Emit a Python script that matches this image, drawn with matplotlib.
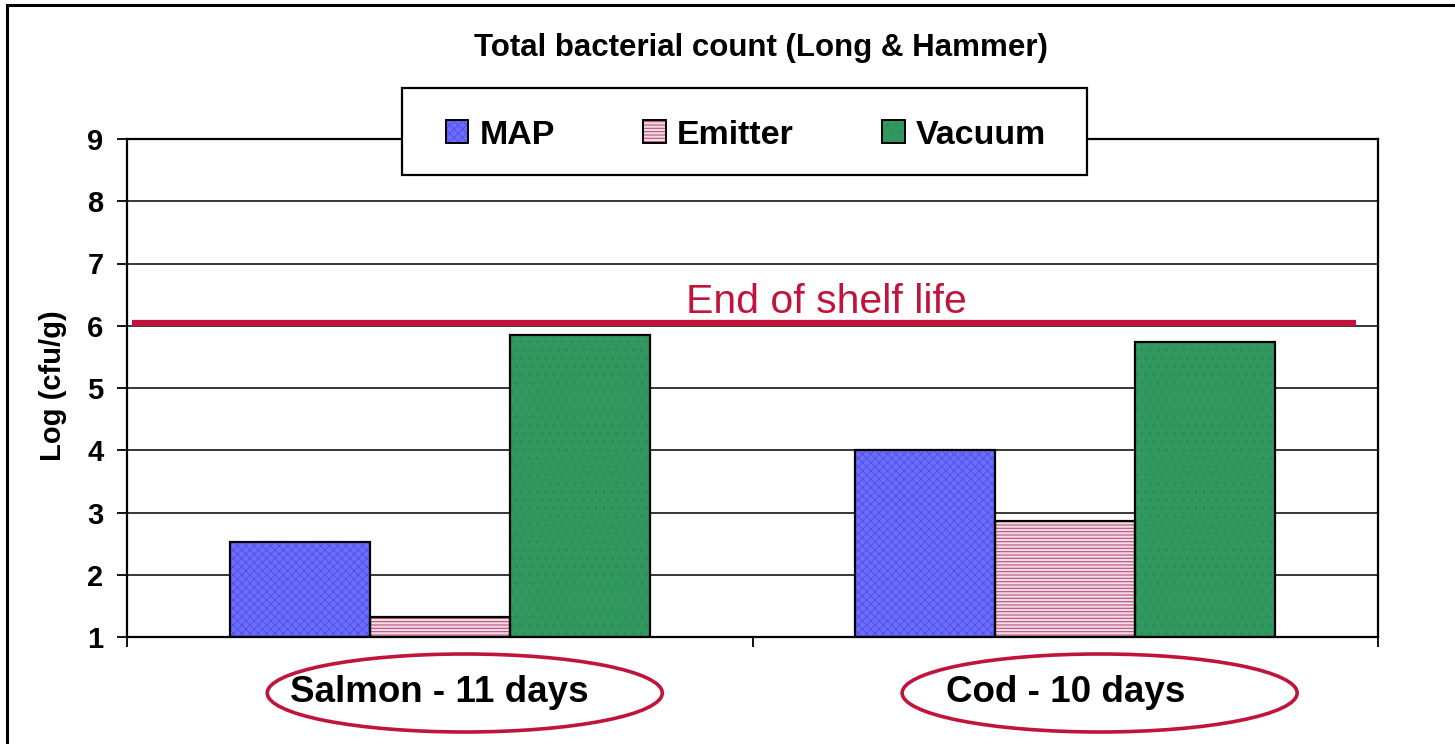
import numpy as np
import matplotlib
matplotlib.use("Agg")
import matplotlib.pyplot as plt
import matplotlib.transforms as mtransforms
from matplotlib.patches import Patch, Rectangle, Ellipse
from matplotlib.legend_handler import HandlerTuple

# data
categories = ["Salmon - 11 days", "Cod - 10 days"]
series = ["MAP", "Emitter", "Vacuum"]
map_vals = [2.53, 4.00]
emitter_vals = [1.32, 2.86]
vacuum_vals = [5.85, 5.74]
shelf_life = 6.04
y_ticks = [1, 2, 3, 4, 5, 6, 7, 8, 9]

plt.rcParams['font.family'] = ['Liberation Sans', 'DejaVu Sans']
plt.rcParams['hatch.linewidth'] = 0.8

face_cols = ['#6C6CFF', '#F4DCE6', '#31995F']
hatch_cols = ['#5353E6', '#B8507C', '#2B8C56']
hatches = ['xxxx', '-----', '..']
red = '#C0143C'

fig = plt.figure(figsize=(14.55, 7.44), dpi=100)
ax = fig.add_axes([127/1455, 107/744, 1251/1455, 498/744])

x = np.arange(len(categories))
w = 0.224
vals = [map_vals, emitter_vals, vacuum_vals]
for i, v in enumerate(vals):
    pos = x + (i - 1) * w
    heights = np.array(v) - 1
    ax.bar(pos, heights, w, bottom=1, color=face_cols[i], hatch=hatches[i],
           edgecolor=hatch_cols[i], linewidth=0, zorder=2)
    ax.bar(pos, heights, w, bottom=1, fill=False, edgecolor='black',
           linewidth=1.6, zorder=3)

# end of shelf life line
ax.plot([-0.492, 1.465], [shelf_life, shelf_life], color=red, lw=4.5,
        solid_capstyle='butt', zorder=4)
ax.text(0.6175, shelf_life + 0.17, "End of shelf life", color=red,
        fontsize=29.5, ha='center', va='baseline', zorder=4)

ax.set_xlim(-0.5, 1.5)
ax.set_ylim(1, 9)
ax.set_yticks(y_ticks)
ax.set_yticklabels([str(t) for t in y_ticks], fontsize=21, fontweight='bold')
ax.set_xticks([-0.5, 0.5, 1.5])
ax.set_xticklabels([])
ax.tick_params(axis='y', length=7, width=1.3, pad=10)
ax.tick_params(axis='x', length=7, width=1.3)
ax.grid(axis='y', color='black', lw=1.1)
ax.set_axisbelow(True)
for s in ax.spines.values():
    s.set_linewidth(1.6)

# category labels in ellipses under the axis
trans = mtransforms.blended_transform_factory(ax.transData, fig.transFigure)
ell_offsets = [0.04, 0.055]
for i, cat in enumerate(categories):
    ax.text(x[i], 51/744, cat, transform=trans, fontsize=26.5,
            fontweight='bold', ha='center', va='center', clip_on=False)
    e = Ellipse((x[i] + ell_offsets[i], 51/744), 0.6315, 78/744,
                transform=trans, fill=False, edgecolor=red, lw=2.6,
                clip_on=False)
    ax.add_artist(e)

fig.text(53/1455, 358/744, "Log (cfu/g)", rotation=90, fontsize=21,
         fontweight='bold', ha='center', va='center')
fig.text(761/1455, 696/744, "Total bacterial count (Long & Hammer)",
         fontsize=22.5, fontweight='bold', ha='center', va='center')

# legend box and entries
fig.patches.append(Rectangle((402/1455, 569/744), 685/1455, 87/744,
                             transform=fig.transFigure, facecolor='white',
                             edgecolor='black', lw=1.6, zorder=3))
handles = []
for i in range(3):
    handles.append((Patch(facecolor=face_cols[i], hatch=hatches[i],
                          edgecolor=hatch_cols[i], lw=0),
                    Patch(fill=False, edgecolor='black', lw=1.4)))
fig.legend(handles, series, loc='center',
           bbox_to_anchor=(746/1455, 609/744), ncol=3, frameon=False,
           prop={'size': 24.5, 'weight': 'bold'}, handlelength=0.66,
           handleheight=0.66, handletextpad=0.33, columnspacing=2.6,
           handler_map={tuple: HandlerTuple(ndivide=1)})

# outer border of the picture
fig.patches.append(Rectangle((7/1455, -0.1), 1.2, 1 - 5/744 + 0.1,
                             transform=fig.transFigure, fill=False,
                             edgecolor='black', lw=2.2, zorder=10))

fig.savefig("out.png", dpi=100)
